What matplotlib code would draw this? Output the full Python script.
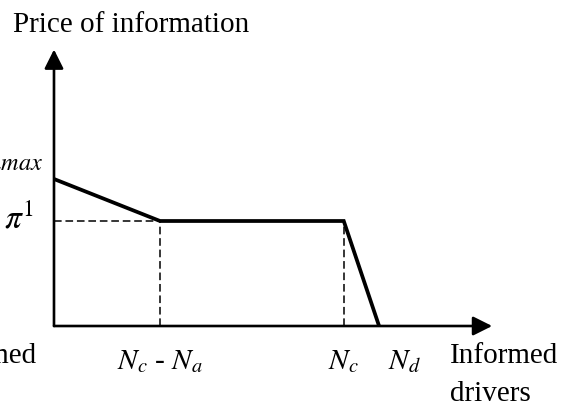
import matplotlib
matplotlib.use("Agg")
import matplotlib.pyplot as plt

plt.rcParams['font.family'] = ['Liberation Serif', 'DejaVu Serif']
plt.rcParams['mathtext.fontset'] = 'stix'

# --- data (arbitrary schematic units) ---
x_points = [0.0, 3.0, 8.2, 9.2]        # 0, Nc-Na, Nc, Nd
y_points = [4.2, 3.0, 3.0, 0.0]        # pi_max, pi_1, pi_1, 0
x_tick_pos = [3.0, 8.2, 9.2]
x_tick_labels = [r'$N_c$ - $N_a$', r'$N_c$', r'$N_d$']
pi1 = 3.0
pimax = 4.2
x_axis_end = 12.4
y_axis_end = 7.9

W, H = 572, 407
fig = plt.figure(figsize=(W / 100, H / 100), dpi=100)
ax = fig.add_axes([0, 0, 1, 1])
ax.set_xlim(-1.528, 14.66)
ax.set_ylim(-2.314, 9.314)
ax.axis('off')

# axes arrows
arrow_kw = dict(arrowstyle='-|>,head_length=0.58,head_width=0.29', lw=1.9,
                color='black', mutation_scale=20, shrinkA=0, shrinkB=0)
ax.annotate('', xy=(x_axis_end, 0), xytext=(0, 0), arrowprops=arrow_kw)
ax.annotate('', xy=(0, y_axis_end), xytext=(0, 0), arrowprops=arrow_kw)

# dashed guides
dash = (0, (5, 2.5))
ax.plot([0, x_points[1]], [pi1, pi1], color='black', lw=1.1, ls=dash)
ax.plot([x_points[1], x_points[1]], [0, pi1], color='black', lw=1.1, ls=dash)
ax.plot([x_points[2], x_points[2]], [0, pi1], color='black', lw=1.1, ls=dash)

# main price curve
ax.plot(x_points, y_points, color='black', lw=2.7, solid_joinstyle='miter',
        solid_capstyle='butt')

# x labels
offsets = [0, 0, 25]
for xp, lab, dx in zip(x_tick_pos, x_tick_labels, offsets):
    ax.annotate(lab, xy=(xp, 0), xytext=(dx, -43), textcoords='offset pixels',
                ha='center', va='baseline', fontsize=21)

# y labels
ax.annotate(r'$\pi^1$', xy=(0, pi1), xytext=(-20, -7), textcoords='offset pixels',
            ha='right', va='baseline', fontsize=24)
ax.annotate(r'$\pi^{max}$', xy=(0, pimax), xytext=(-11, -4), textcoords='offset pixels',
            ha='right', va='baseline', fontsize=25)

# axis titles
def ftext(px, py, s, **kw):
    fig.text(px / W, 1 - py / H, s, va='baseline', fontsize=21, **kw)

ftext(13, 32, 'Price of information')
ftext(450, 363, 'Informed')
ftext(450, 401, 'drivers')
ftext(-106, 363, 'Uninformed')
ftext(-106, 401, 'drivers')

fig.savefig('out.png', dpi=100)
